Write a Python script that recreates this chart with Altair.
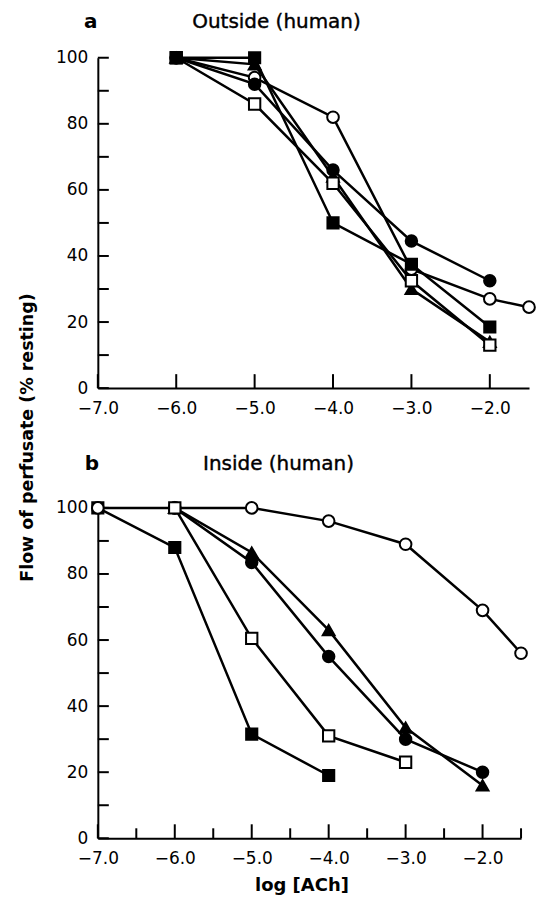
import altair as alt
import pandas as pd

# ---------------- data ----------------
SERIES = ["tri", "oci", "fci", "osq", "fsq"]
SHAPES = ["triangle-up", "circle", "circle", "square", "square"]
FILLS = ["black", "white", "black", "white", "black"]
SIZES = [140, 125, 125, 135, 135]

x_major = [-7, -6, -5, -4, -3, -2]
x_minor = [-6.5, -5.5, -4.5, -3.5, -2.5, -1.5]
y_major = [0, 20, 40, 60, 80, 100]
y_minor = [10, 30, 50, 70, 90]

# Panel a: Outside (human)
a_x_tri = [-6, -5, -4, -3, -2]
a_y_tri = [100, 98, 64, 30, 14]
a_x_oci = [-6, -5, -4, -3, -2, -1.5]
a_y_oci = [100, 94, 82, 36, 27, 24.5]
a_x_fci = [-6, -5, -4, -3, -2]
a_y_fci = [100, 92, 66, 44.5, 32.5]
a_x_osq = [-6, -5, -4, -3, -2]
a_y_osq = [100, 86, 62, 32.5, 13]
a_x_fsq = [-6, -5, -4, -3, -2]
a_y_fsq = [100, 100, 50, 37.5, 18.5]

# Panel b: Inside (human)
b_x_tri = [-6, -5, -4, -3, -2]
b_y_tri = [100, 86.5, 63, 33.5, 16]
b_x_oci = [-7, -6, -5, -4, -3, -2, -1.5]
b_y_oci = [100, 100, 100, 96, 89, 69, 56]
b_x_fci = [-6, -5, -4, -3, -2]
b_y_fci = [100, 83.5, 55, 30, 20]
b_x_fsq = [-7, -6, -5, -4]
b_y_fsq = [100, 88, 31.5, 19]
b_x_osq = [-6, -5, -4, -3]
b_y_osq = [100, 60.5, 31, 23]

FONT = "DejaVu Sans"


def make_df(parts):
    rows = []
    for name, xs, ys in parts:
        for xv, yv in zip(xs, ys):
            rows.append({"s": name, "x": xv, "y": yv})
    return pd.DataFrame(rows)


df_a = make_df([
    ("tri", a_x_tri, a_y_tri),
    ("oci", a_x_oci, a_y_oci),
    ("osq", a_x_osq, a_y_osq),
    ("fci", a_x_fci, a_y_fci),
    ("fsq", a_x_fsq, a_y_fsq),
])
df_b = make_df([
    ("tri", b_x_tri, b_y_tri),
    ("fci", b_x_fci, b_y_fci),
    ("fsq", b_x_fsq, b_y_fsq),
    ("oci", b_x_oci, b_y_oci),
    ("osq", b_x_osq, b_y_osq),
])


def panel(df, w, h, minor, letter, letter_x, title, title_x, title_y,
          ytitle=False, xtitle=False):
    xs = alt.Scale(domain=[-7, -1.5], nice=False, zero=False)
    ys = alt.Scale(domain=[0, 100], nice=False)
    xaxis_kw = dict(values=x_major, format=".1f", ticks=False, grid=False,
                    domainColor="black", domainWidth=2, labelFont=FONT,
                    labelFontSize=17, labelColor="black", labelPadding=12,
                    labelFlush=False)
    if xtitle:
        xaxis = alt.Axis(title="log [ACh]", titleFont=FONT, titleFontSize=18,
                         titleFontWeight="bold", titleColor="black",
                         titleX=204, titleY=47, titleBaseline="middle",
                         **xaxis_kw)
    else:
        xaxis = alt.Axis(title=None, **xaxis_kw)
    yaxis_kw = dict(values=y_major, format="d", ticks=False, grid=False,
                    domainColor="black", domainWidth=2, labelFont=FONT,
                    labelFontSize=17, labelColor="black", labelPadding=10,
                    labelFlush=False)
    if ytitle:
        yaxis = alt.Axis(title="Flow of perfusate (% resting)", titleFont=FONT,
                         titleFontSize=17.5, titleFontWeight="bold",
                         titleColor="black", titleX=-70, titleY=380,
                         titleAngle=-90, titleAlign="center",
                         titleBaseline="middle", **yaxis_kw)
    else:
        yaxis = alt.Axis(title=None, **yaxis_kw)

    X = alt.X("x:Q", scale=xs, axis=xaxis)
    Y = alt.Y("y:Q", scale=ys, axis=yaxis)

    lines = alt.Chart(df).mark_line(color="black", strokeWidth=2.5).encode(
        x=X, y=Y, detail="s:N", order="x:Q")
    pts = alt.Chart(df).mark_point(filled=True, stroke="black",
                                   strokeWidth=2, opacity=1).encode(
        x=X, y=Y,
        shape=alt.Shape("s:N", scale=alt.Scale(domain=SERIES, range=SHAPES),
                        legend=None),
        fill=alt.Fill("s:N", scale=alt.Scale(domain=SERIES, range=FILLS),
                      legend=None),
        size=alt.Size("s:N", scale=alt.Scale(domain=SERIES, range=SIZES),
                      legend=None),
    )
    layers = [alt.Chart(pd.DataFrame({"x": x_major})).mark_rule(
        color="black", strokeWidth=2).encode(
        x=X, y=alt.value(h), y2=alt.value(h - 14))]
    if minor:
        layers.append(alt.Chart(pd.DataFrame({"x": x_minor})).mark_rule(
            color="black", strokeWidth=2).encode(
            x=X, y=alt.value(h), y2=alt.value(h - 10)))
    yt = pd.DataFrame({"y": y_major + y_minor})
    layers.append(alt.Chart(yt).mark_rule(color="black", strokeWidth=2).encode(
        y=Y, x=alt.value(0), x2=alt.value(11)))
    lab = alt.Chart(pd.DataFrame({"t": [letter]})).mark_text(
        font=FONT, fontSize=20, fontWeight="bold", color="black",
        baseline="middle", align="center").encode(
        text="t:N", x=alt.value(letter_x), y=alt.value(title_y))
    tit = alt.Chart(pd.DataFrame({"t": [title]})).mark_text(
        font=FONT, fontSize=20, color="black", stroke="black", strokeWidth=0.4,
        baseline="middle", align="center").encode(
        text="t:N", x=alt.value(title_x), y=alt.value(title_y))
    return alt.layer(lines, *layers, pts, lab, tit).properties(
        width=w, height=h,
        view=alt.ViewBackground(stroke="transparent", strokeWidth=0))


pa = panel(df_a, 432, 331, False, "a", -7, "Outside (human)", 179, -36,
           ytitle=True)
pb = panel(df_b, 424, 331, True, "b", -6, "Inside (human)", 181, -44,
           xtitle=True)

chart = alt.vconcat(pa, pb, spacing=120, bounds="flush").properties(
    padding={"left": 11, "top": 3, "right": 0, "bottom": 0}
).configure_view(strokeWidth=0, stroke="transparent").configure(background="white")

chart.save("out.html", embed_options={"renderer": "svg", "actions": False})
